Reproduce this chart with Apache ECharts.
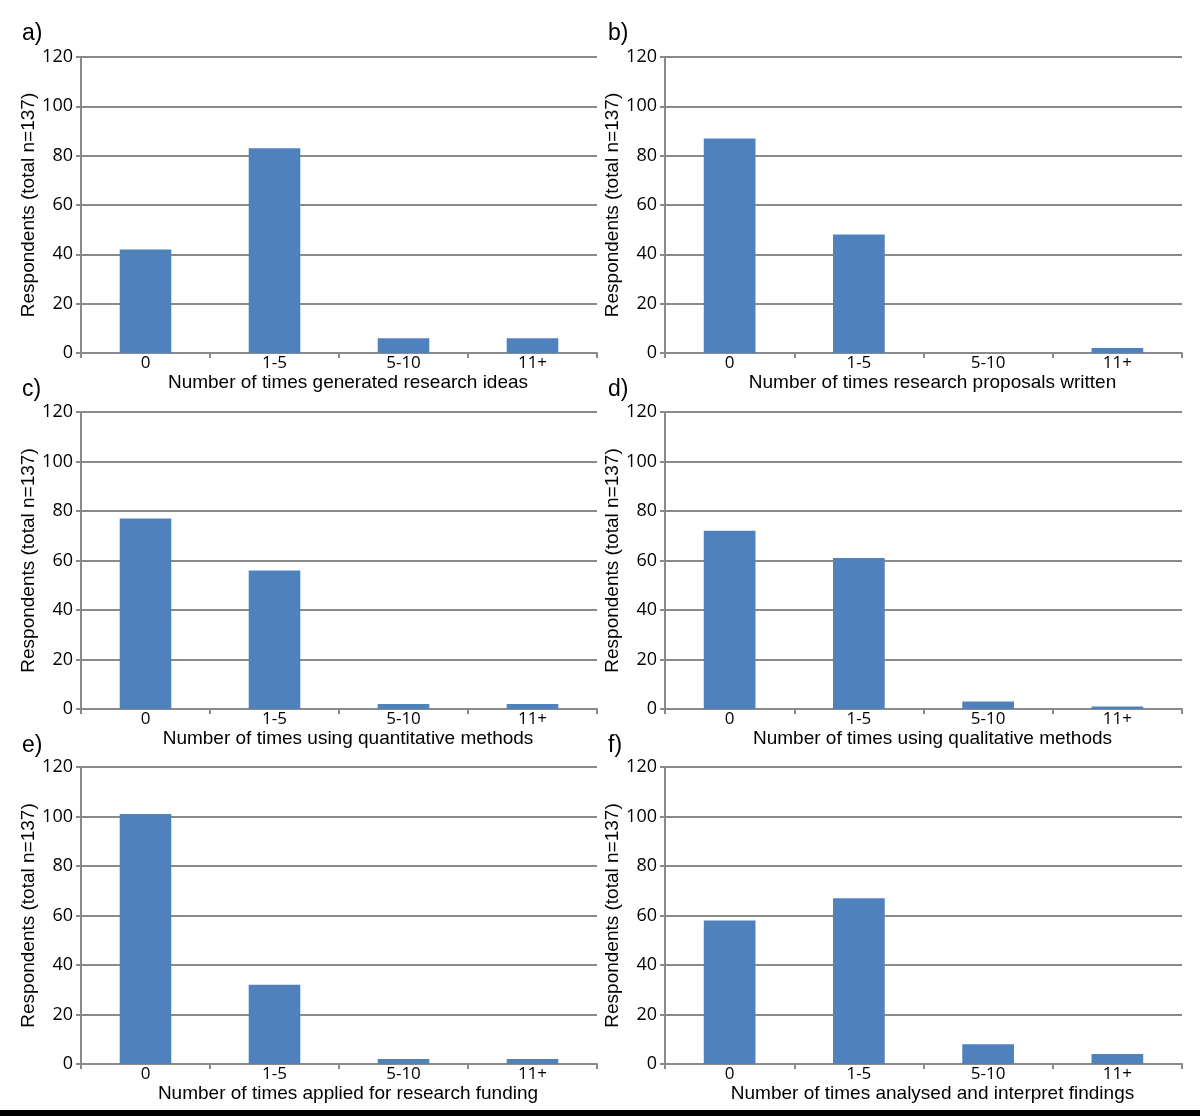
<!DOCTYPE html>
<html>
<head>
<meta charset="utf-8">
<script src="https://cdn.jsdelivr.net/npm/echarts@6/dist/echarts.min.js"></script>
<style>
html,body{margin:0;padding:0;background:#fff;}
#chart{width:1200px;height:1116px;}
</style>
</head>
<body>
<div id="chart"></div>
<script>
const categories = ['0', '1-5', '5-10', '11+'];
const yTicks = { min: 0, max: 120, interval: 20 };
const yAxisTitle = 'Respondents (total n=137)';
const panelLabels = ['a)', 'b)', 'c)', 'd)', 'e)', 'f)'];
const xAxisTitles = [
  'Number of times generated research ideas',
  'Number of times research proposals written',
  'Number of times using quantitative methods',
  'Number of times using qualitative methods',
  'Number of times applied for research funding',
  'Number of times analysed and interpret findings'
];
const valuesA = [42, 83, 6, 6];
const valuesB = [87, 48, 0, 2];
const valuesC = [77, 56, 2, 2];
const valuesD = [72, 61, 3, 1];
const valuesE = [101, 32, 2, 2];
const valuesF = [58, 67, 8, 4];
const allValues = [valuesA, valuesB, valuesC, valuesD, valuesE, valuesF];

const gridPos = [
  { left: 81, top: 57, width: 516, height: 296 },
  { left: 665, top: 57, width: 517, height: 296 },
  { left: 81, top: 412, width: 516, height: 297 },
  { left: 665, top: 412, width: 517, height: 297 },
  { left: 81, top: 767, width: 516, height: 297 },
  { left: 665, top: 767, width: 517, height: 297 }
];
const labelPos = [
  { left: 22, top: 22 }, { left: 608, top: 22 },
  { left: 22, top: 378 }, { left: 608, top: 378 },
  { left: 22, top: 734 }, { left: 608, top: 734 }
];

const axisGray = '#8a8a8a';
const barColor = '#4f81bd';
const tickFont = 'Open Sans, Noto Sans, sans-serif';
const nameFont = 'Liberation Sans, Arial, sans-serif';

const option = {
  animation: false,
  backgroundColor: '#fff',
  grid: gridPos.map(g => Object.assign({ containLabel: false }, g)),
  xAxis: gridPos.map((g, i) => ({
    type: 'category',
    gridIndex: i,
    data: categories,
    name: xAxisTitles[i],
    nameLocation: 'middle',
    nameGap: 19,
    nameTextStyle: { fontFamily: nameFont, fontSize: 19, color: '#000', verticalAlign: 'top', padding: [0, 0, 0, 18] },
    axisLine: { lineStyle: { color: axisGray, width: 2 } },
    axisTick: { show: true, alignWithLabel: false, length: 5, lineStyle: { color: axisGray, width: 2 } },
    axisLabel: { fontFamily: tickFont, fontSize: 17, color: '#000', margin: 2 },
    splitLine: { show: false }
  })),
  yAxis: gridPos.map((g, i) => ({
    type: 'value',
    gridIndex: i,
    min: yTicks.min,
    max: yTicks.max,
    interval: yTicks.interval,
    name: yAxisTitle,
    nameLocation: 'middle',
    nameGap: 39,
    nameRotate: 90,
    nameTextStyle: { fontFamily: nameFont, fontSize: 19, color: '#000' },
    axisLine: { show: true, lineStyle: { color: axisGray, width: 2 } },
    axisTick: { show: true, length: 5, lineStyle: { color: axisGray, width: 2 } },
    axisLabel: { fontFamily: tickFont, fontSize: 18, color: '#000', margin: 8 },
    splitLine: { show: true, lineStyle: { color: axisGray, width: 2 } }
  })),
  series: allValues.map((vals, i) => ({
    type: 'bar',
    xAxisIndex: i,
    yAxisIndex: i,
    data: vals,
    barWidth: '40%',
    itemStyle: { color: barColor },
    silent: true
  })),
  graphic: labelPos.map((p, i) => ({
    type: 'text',
    left: p.left,
    top: p.top,
    style: { text: panelLabels[i], font: '23px ' + nameFont, fill: '#000' }
  })).concat([{
    type: 'rect',
    left: 0,
    top: 1110,
    shape: { width: 1200, height: 6 },
    style: { fill: '#000' }
  }])
};

const chart = echarts.init(document.getElementById('chart'), null, { renderer: 'canvas' });
chart.setOption(option);
</script>
</body>
</html>
